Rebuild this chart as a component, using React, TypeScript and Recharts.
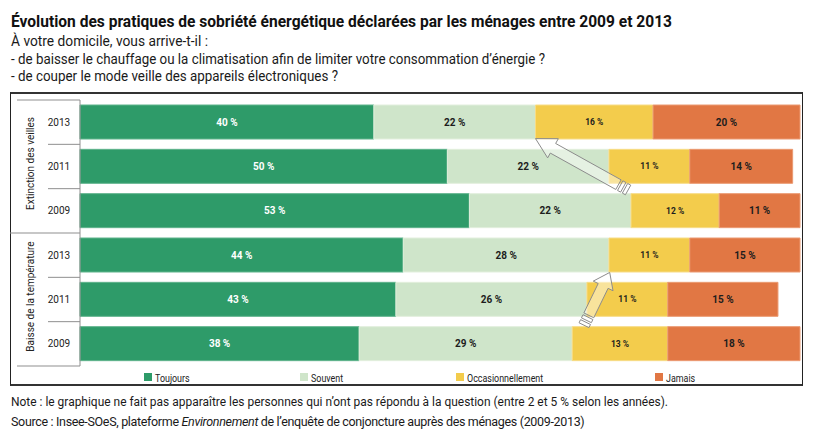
import React from "react";
import { BarChart, Bar, XAxis, YAxis, LabelList, ReferenceLine } from "recharts";

// rows, top to bottom
const rowKeys = ["ext-2013", "ext-2011", "ext-2009", "baisse-2013", "baisse-2011", "baisse-2009"];
const years = ["2013", "2011", "2009", "2013", "2011", "2009"];
const groups = ["Extinction des veilles", "Baisse de la température"];

// shares in %
const toujours = [40, 50, 53, 44, 43, 38];
const souvent = [22, 22, 22, 28, 26, 29];
const occasionnellement = [16, 11, 12, 11, 11, 13];
const jamais = [20, 14, 11, 15, 15, 18];

const seriesKeys = ["toujours", "souvent", "occasionnellement", "jamais"];
const seriesNames = ["Toujours", "Souvent", "Occasionnellement", "Jamais"];

// arrows: x in %, row = category, dy = shift from the row centre in row heights
const arrowTails = [
  { x: 74.6, y: "ext-2011", dy: 0.53 },
  { x: 68.6, y: "baisse-2011", dy: 0.58 },
];
const arrowTips = [
  { x: 62, y: "ext-2013", dy: 0.37 },
  { x: 72.1, y: "baisse-2013", dy: 0.39 },
];

const colors = ["#2e9b69", "#cfe5ca", "#f3cc4c", "#e17744"];
const edgeColors = ["#5fb48c", "#e2efdd", "#f7dc86", "#eb9a72"];
const labelColors = ["#ffffff", "#1d1d1d", "#1d1d1d", "#1d1d1d"];
const labelSizes = [10, 10, 8.5, 10];
const legendX = [144, 300, 456, 655];

const data = rowKeys.map((key, i) => ({
  key,
  year: years[i],
  toujours: toujours[i],
  souvent: souvent[i],
  occasionnellement: occasionnellement[i],
  jamais: jamais[i],
}));

const FONT = "Roboto, 'Noto Sans', sans-serif";
const W = 826;
const H = 444;
const MARGIN = { top: 100, right: 26, bottom: 78, left: 10 };
const ROW_H = (H - MARGIN.top - MARGIN.bottom) / rowKeys.length;

function RowTick(props: any) {
  const { x, y, payload, index } = props;
  const half = payload && payload.offset ? payload.offset : ROW_H / 2;
  const ax = x;
  const line = "#8f8f8f";
  return (
    <g>
      <text x={ax - 21} y={y + 3.5} textAnchor="middle" fontSize={10} fill="#222" fontFamily={FONT}>
        {years[index]}
      </text>
      {index === 0 && <line x1={ax - 63} x2={ax} y1={y - half} y2={y - half} stroke={line} />}
      {index === 3 && <line x1={ax - 70} x2={ax} y1={y - half} y2={y - half} stroke={line} />}
      {index !== 0 && index !== 3 && (
        <line x1={ax - 32} x2={ax} y1={y - half} y2={y - half} stroke={line} />
      )}
      {index === 5 && <line x1={ax - 63} x2={ax} y1={y + half} y2={y + half} stroke={line} />}
      {(index === 1 || index === 4) && (
        <text
          transform={`translate(${ax - 46},${y - 3}) rotate(-90)`}
          textAnchor="middle"
          fontSize={10}
          fill="#222"
          fontFamily={FONT}
        >
          {groups[index === 1 ? 0 : 1]}
        </text>
      )}
    </g>
  );
}

function renderArrow(p: any, i: number) {
  const x1 = p.x1;
  const y1 = p.y1 + arrowTails[i].dy * ROW_H;
  const x2 = p.x2;
  const y2 = p.y2 + arrowTips[i].dy * ROW_H;
  const headLen = i === 0 ? 20 : 15;
  const dx = x2 - x1;
  const dy = y2 - y1;
  const len = Math.hypot(dx, dy) || 1;
  const ux = dx / len;
  const uy = dy / len;
  const nx = -uy;
  const ny = ux;
  const pt = (a: number, s: number) => `${x1 + ux * a + nx * s},${y1 + uy * a + ny * s}`;
  const sw = 5.5;
  const hw = 11;
  const hb = len - headLen;
  const body = [pt(11, sw), pt(hb, sw), pt(hb, hw), pt(len, 0), pt(hb, -hw), pt(hb, -sw), pt(11, -sw)].join(" ");
  const stripe = (a: number, b: number) => [pt(a, sw), pt(b, sw), pt(b, -sw), pt(a, -sw)].join(" ");
  const st = { fill: "rgba(255,255,255,0.45)", stroke: "#8c8c8c", strokeWidth: 1 };
  return (
    <g>
      <polygon points={body} {...st} />
      <polygon points={stripe(5.5, 9)} {...st} />
      <polygon points={stripe(0, 3.5)} {...st} />
    </g>
  );
}

export default function App() {
  return (
    <div style={{ position: "relative", width: W, height: H, background: "#fff", fontFamily: FONT }}>
      <style>{"body{margin:0}"}</style>
      <div
        style={{
          position: "absolute",
          left: 10,
          top: 92,
          width: 791,
          height: 290,
          borderTop: "2px solid #333",
          borderBottom: "2px solid #333",
          borderLeft: "1px solid #222",
          borderRight: "1px solid #222",
        }}
      />
      <div style={{ position: "absolute", left: 0, top: 0 }}>
        <BarChart width={W} height={H} data={data} layout="vertical" margin={MARGIN} barSize={34}>
          <XAxis type="number" domain={[0, 98]} hide />
          <YAxis
            type="category"
            dataKey="key"
            width={70}
            interval={0}
            tickLine={false}
            tickSize={0}
            tickMargin={0}
            axisLine={{ stroke: "#8f8f8f" }}
            tick={<RowTick />}
          />
          {seriesKeys.map((k, i) => (
            <Bar
              key={k}
              dataKey={k}
              name={seriesNames[i]}
              stackId="a"
              fill={colors[i]}
              stroke={edgeColors[i]}
              strokeWidth={1}
              isAnimationActive={false}
            >
              <LabelList
                dataKey={k}
                position="center"
                formatter={(v: any) => `${v}\u00a0%`}
                fill={labelColors[i]}
                fontSize={labelSizes[i]}
                fontWeight="bold"
                fontFamily={FONT}
              />
            </Bar>
          ))}
          {arrowTips.map((tip, i) => (
            <ReferenceLine
              key={"arrow" + i}
              ifOverflow="visible"
              segment={[
                { x: arrowTails[i].x, y: arrowTails[i].y },
                { x: tip.x, y: tip.y },
              ]}
              shape={(p: any) => renderArrow(p, i)}
            />
          ))}
        </BarChart>
      </div>
      <svg
        width={W}
        height={H}
        style={{ position: "absolute", left: 0, top: 0, pointerEvents: "none" }}
        fontFamily={FONT}
      >
        <text x={11} y={27} fontSize={16} fontWeight="bold" fill="#111" textLength={661} lengthAdjust="spacingAndGlyphs">
          Évolution des pratiques de sobriété énergétique déclarées par les ménages entre 2009 et 2013
        </text>
        <text x={11} y={46} fontSize={14} fill="#1a1a1a" textLength={197} lengthAdjust="spacingAndGlyphs">
          À votre domicile, vous arrive-t-il :
        </text>
        <text x={11} y={63.5} fontSize={14} fill="#1a1a1a" textLength={534} lengthAdjust="spacingAndGlyphs">
          - de baisser le chauffage ou la climatisation afin de limiter votre consommation d’énergie ?
        </text>
        <text x={11} y={81} fontSize={14} fill="#1a1a1a" textLength={327} lengthAdjust="spacingAndGlyphs">
          - de couper le mode veille des appareils électroniques ?
        </text>
        {seriesNames.map((n, i) => (
          <g key={n}>
            <rect x={legendX[i]} y={373} width={8} height={8} fill={colors[i]} />
            <text transform={`translate(${legendX[i] + 11},381.5) scale(0.85,1)`} fontSize={10.5} fill="#222">
              {n}
            </text>
          </g>
        ))}
        <text x={11} y={406} fontSize={12.5} fill="#1a1a1a" textLength={657} lengthAdjust="spacingAndGlyphs">
          Note : le graphique ne fait pas apparaître les personnes qui n’ont pas répondu à la question (entre 2 et 5 % selon les années).
        </text>
        <text x={11} y={426} fontSize={12.5} fill="#1a1a1a" letterSpacing={-0.33}>
          Source : Insee-SOeS, plateforme <tspan fontStyle="italic">Environnement</tspan> de l’enquête de conjoncture auprès des ménages (2009-2013)
        </text>
      </svg>
    </div>
  );
}
